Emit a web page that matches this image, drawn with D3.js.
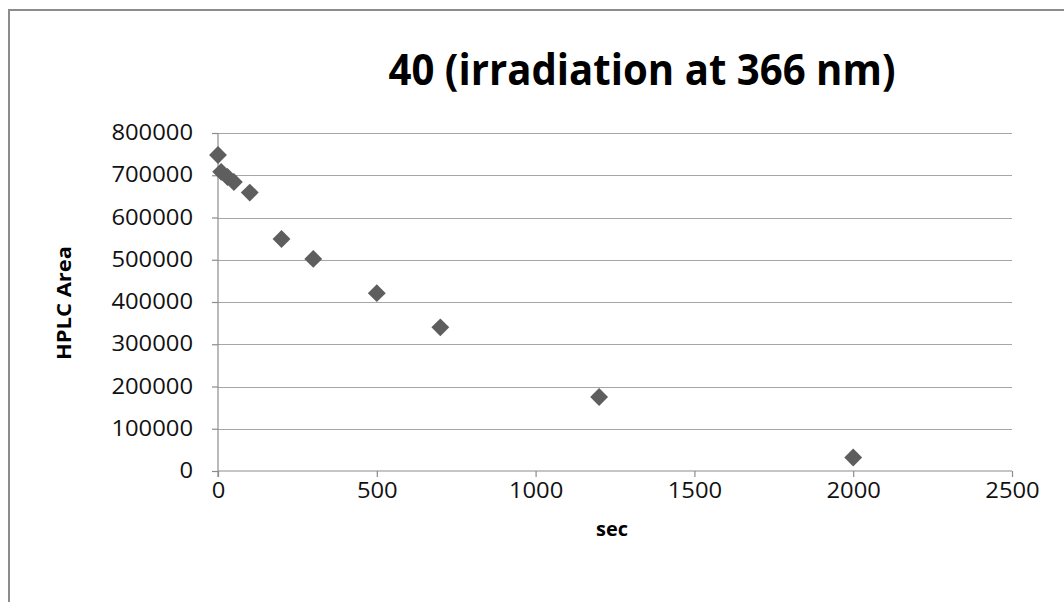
<!DOCTYPE html>
<html>
<head>
<meta charset="utf-8">
<script src="https://cdn.jsdelivr.net/npm/d3@7"></script>
<style>
  html, body { margin: 0; padding: 0; background: #fff; }
  svg { display: block; }
  text { font-family: "Open Sans", "Liberation Sans", sans-serif; }
</style>
</head>
<body>
<svg id="chart" width="1064" height="602"></svg>
<script>
// ---- data ----
const times = [0, 10, 30, 50, 100, 200, 300, 500, 700, 1200, 2000];
const areas = [748000, 708000, 696000, 684000, 659000, 549000, 502000, 421000, 340000, 175000, 32000];
const xTicks = [0, 500, 1000, 1500, 2000, 2500];
const yTicks = [0, 100000, 200000, 300000, 400000, 500000, 600000, 700000, 800000];
const titleText = "40 (irradiation at 366 nm)";
const xTitle = "sec";
const yTitle = "HPLC Area";

const svg = d3.select("#chart");
const W = 1064, H = 602;

// frame
svg.append("rect").attr("x", 0).attr("y", 0).attr("width", W).attr("height", H).attr("fill", "#fff");
svg.append("path")
  .attr("d", `M9,${H} L9,10 L${W},10`)
  .attr("fill", "none").attr("stroke", "#8c8c8c").attr("stroke-width", 2);

const x = d3.scaleLinear().domain([0, 2500]).range([218, 1012]);
const y = d3.scaleLinear().domain([0, 800000]).range([471, 133]);

const digitW = 13.6;

// gridlines
svg.append("g").selectAll("line").data(yTicks.filter(d => d > 0)).join("line")
  .attr("x1", x(0)).attr("x2", x(2500))
  .attr("y1", d => Math.round(y(d)) + 0.5).attr("y2", d => Math.round(y(d)) + 0.5)
  .attr("stroke", "#a6a6a6").attr("stroke-width", 1.2);

// y axis
const yAxis = svg.append("g").attr("transform", `translate(${x(0)},0)`)
  .call(d3.axisLeft(y).tickValues(yTicks).tickSize(6).tickPadding(8).tickFormat(d3.format("d")));
yAxis.select(".domain").attr("stroke", "#8c8c8c").attr("stroke-width", 1.2).attr("d", `M0,${y(0)+6}V${y(800000)}`);
yAxis.selectAll(".tick line").attr("stroke", "#8c8c8c").attr("stroke-width", 1.2);
yAxis.selectAll(".tick text")
  .attr("font-size", 21).attr("fill", "#111")
  .attr("font-family", "Open Sans")
  .attr("x", -25)
  .attr("textLength", d => String(d).length * digitW)
  .attr("lengthAdjust", "spacingAndGlyphs");

// x axis
const xAxis = svg.append("g").attr("transform", `translate(0,${y(0)})`)
  .call(d3.axisBottom(x).tickValues(xTicks).tickSize(6).tickPadding(6).tickFormat(d3.format("d")));
xAxis.select(".domain").attr("stroke", "#8c8c8c").attr("stroke-width", 1.2).attr("d", `M${x(0)},0H${x(2500)}`);
xAxis.selectAll(".tick line").attr("stroke", "#8c8c8c").attr("stroke-width", 1.2);
xAxis.selectAll(".tick text")
  .attr("font-size", 21).attr("fill", "#111")
  .attr("font-family", "Open Sans")
  .attr("textLength", d => String(d).length * digitW)
  .attr("lengthAdjust", "spacingAndGlyphs");

// points
const pts = times.map((t, i) => ({ t, a: areas[i] }));
svg.append("g").selectAll("path").data(pts).join("path")
  .attr("d", d3.symbol(d3.symbolSquare, 160)())
  .attr("transform", d => `translate(${x(d.t)},${y(d.a)}) rotate(45)`)
  .attr("fill", "#5e5e5e");

// title
svg.append("text")
  .attr("x", 642).attr("y", 85)
  .attr("text-anchor", "middle")
  .attr("font-size", 43).attr("font-weight", "bold").attr("fill", "#000")
  .attr("textLength", 507).attr("lengthAdjust", "spacingAndGlyphs")
  .text(titleText);

// x title
svg.append("text")
  .attr("x", 612).attr("y", 536)
  .attr("text-anchor", "middle")
  .attr("font-size", 19).attr("font-weight", "bold").attr("fill", "#000")
  .attr("textLength", 32).attr("lengthAdjust", "spacingAndGlyphs")
  .text(xTitle);

// y title
svg.append("text")
  .attr("transform", "translate(71,303) rotate(-90)")
  .attr("text-anchor", "middle")
  .attr("font-size", 20).attr("font-weight", "bold").attr("fill", "#000")
  .attr("textLength", 114).attr("lengthAdjust", "spacingAndGlyphs")
  .text(yTitle);
</script>
</body>
</html>
